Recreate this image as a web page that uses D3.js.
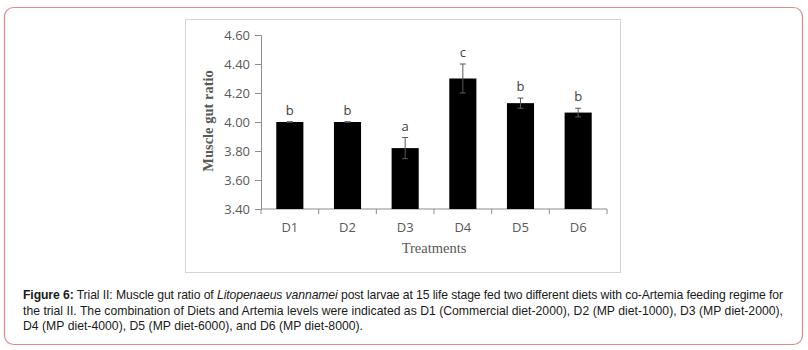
<!DOCTYPE html>
<html>
<head>
<meta charset="utf-8">
<script src="https://cdn.jsdelivr.net/npm/d3@7"></script>
<style>
body { margin: 0; background: #fff; }
</style>
</head>
<body>
<svg id="fig" width="808" height="350"></svg>
<script>
// chart values
const treatments = ["D1", "D2", "D3", "D4", "D5", "D6"];
const ratio = [4.00, 4.00, 3.82, 4.30, 4.13, 4.065];
const errors = [0.002, 0.002, 0.073, 0.10, 0.035, 0.03];
const letters = ["b", "b", "a", "c", "b", "b"];
const yTicks = [3.4, 3.6, 3.8, 4.0, 4.2, 4.4, 4.6];

const caption = [
  [["Figure 6:", "bold"], [" Trial II: Muscle gut ratio of ", ""], ["Litopenaeus vannamei", "italic"], [" post larvae at 15 life stage fed two different diets with co-Artemia feeding regime for", ""]],
  [["the trial II. The combination of Diets and Artemia levels were indicated as D1 (Commercial diet-2000), D2 (MP diet-1000), D3 (MP diet-2000),", ""]],
  [["D4 (MP diet-4000), D5 (MP diet-6000), and D6 (MP diet-8000).", ""]]
];
const captionWidths = [760, 760, 340];

const svg = d3.select("#fig");

// outer frame
svg.append("rect")
  .attr("x", 4.5).attr("y", 7.5)
  .attr("width", 798).attr("height", 337)
  .attr("rx", 9)
  .attr("fill", "none")
  .attr("stroke", "#e08a8a")
  .attr("stroke-width", 1.2);

// chart box
svg.append("rect")
  .attr("x", 185.5).attr("y", 19.5)
  .attr("width", 435).attr("height", 253)
  .attr("fill", "#fff")
  .attr("stroke", "#d4d4d4");

const x = d3.scaleBand().domain(treatments).range([261, 607]).paddingInner(0.53).paddingOuter(0.265);
const y = d3.scaleLinear().domain([3.4, 4.6]).range([209, 35]);

const g = svg.append("g");

// y axis
const yAxis = g.append("g")
  .attr("transform", "translate(261,0)")
  .call(d3.axisLeft(y).tickValues(yTicks).tickFormat(d3.format(".2f")).tickSizeOuter(0).tickSize(6).tickPadding(5));
yAxis.select(".domain").attr("stroke", "#8c8c8c");
yAxis.selectAll(".tick line").attr("stroke", "#8c8c8c");
yAxis.selectAll("text")
  .attr("fill", "#595959")
  .style("font-family", "'Open Sans', 'Liberation Sans', sans-serif")
  .style("font-size", "13px");

// x axis with boundary ticks
const xAxis = g.append("g").attr("transform", "translate(0,209)");
xAxis.append("line")
  .attr("x1", 261).attr("x2", 607)
  .attr("stroke", "#8c8c8c");
const bounds = treatments.map(d => x(d) - x.step() * x.paddingInner() / 2).concat([607]);
xAxis.selectAll(".bt").data(bounds).enter().append("line")
  .attr("x1", d => d).attr("x2", d => d)
  .attr("y1", 0).attr("y2", 5)
  .attr("stroke", "#8c8c8c");
xAxis.selectAll(".xl").data(treatments).enter().append("text")
  .attr("x", d => x(d) + x.bandwidth() / 2)
  .attr("y", 23)
  .attr("text-anchor", "middle")
  .attr("fill", "#595959")
  .style("font-family", "'Open Sans', 'Liberation Sans', sans-serif")
  .style("font-size", "13px")
  .text(d => d);

// bars
g.selectAll(".bar").data(treatments).enter().append("rect")
  .attr("x", d => x(d))
  .attr("width", x.bandwidth())
  .attr("y", (d, i) => y(ratio[i]))
  .attr("height", (d, i) => y(3.4) - y(ratio[i]))
  .attr("fill", "#000");

// error bars
const eb = g.selectAll(".err").data(treatments).enter().append("g")
  .attr("stroke", "#595959").attr("stroke-width", 1);
eb.append("line")
  .attr("x1", d => x(d) + x.bandwidth() / 2).attr("x2", d => x(d) + x.bandwidth() / 2)
  .attr("y1", (d, i) => y(ratio[i] + errors[i])).attr("y2", (d, i) => y(ratio[i] - errors[i]));
eb.append("line")
  .attr("x1", d => x(d) + x.bandwidth() / 2 - 3).attr("x2", d => x(d) + x.bandwidth() / 2 + 3)
  .attr("y1", (d, i) => y(ratio[i] + errors[i])).attr("y2", (d, i) => y(ratio[i] + errors[i]));
eb.append("line")
  .attr("x1", d => x(d) + x.bandwidth() / 2 - 3).attr("x2", d => x(d) + x.bandwidth() / 2 + 3)
  .attr("y1", (d, i) => y(ratio[i] - errors[i])).attr("y2", (d, i) => y(ratio[i] - errors[i]));

// significance letters
g.selectAll(".lt").data(treatments).enter().append("text")
  .attr("x", d => x(d) + x.bandwidth() / 2)
  .attr("y", (d, i) => y(ratio[i] + errors[i]) - 7)
  .attr("text-anchor", "middle")
  .attr("fill", "#404040")
  .style("font-family", "'Open Sans', 'Liberation Sans', sans-serif")
  .style("font-size", "13px")
  .text((d, i) => letters[i]);

// axis titles
g.append("text")
  .attr("x", 434).attr("y", 253)
  .attr("text-anchor", "middle")
  .attr("fill", "#595959")
  .style("font-family", "'Liberation Serif', 'DejaVu Serif', serif")
  .style("font-size", "14.5px")
  .text("Treatments");
g.append("text")
  .attr("transform", "translate(213,121) rotate(-90)")
  .attr("text-anchor", "middle")
  .attr("fill", "#595959")
  .style("font-family", "'Liberation Serif', 'DejaVu Serif', serif")
  .style("font-size", "14.5px")
  .style("font-weight", "bold")
  .text("Muscle gut ratio");

// caption
const cap = svg.append("g")
  .style("font-family", "'Liberation Sans', Arial, sans-serif")
  .style("font-size", "12.2px")
  .attr("fill", "#1a1a1a");
caption.forEach((line, li) => {
  const t = cap.append("text")
    .attr("x", 23).attr("y", 299 + li * 15.5)
    .attr("textLength", captionWidths[li])
    .attr("lengthAdjust", "spacing");
  line.forEach(([s, st]) => {
    const sp = t.append("tspan").text(s);
    if (st === "bold") sp.style("font-weight", "bold");
    if (st === "italic") sp.style("font-style", "italic");
  });
});
</script>
</body>
</html>
